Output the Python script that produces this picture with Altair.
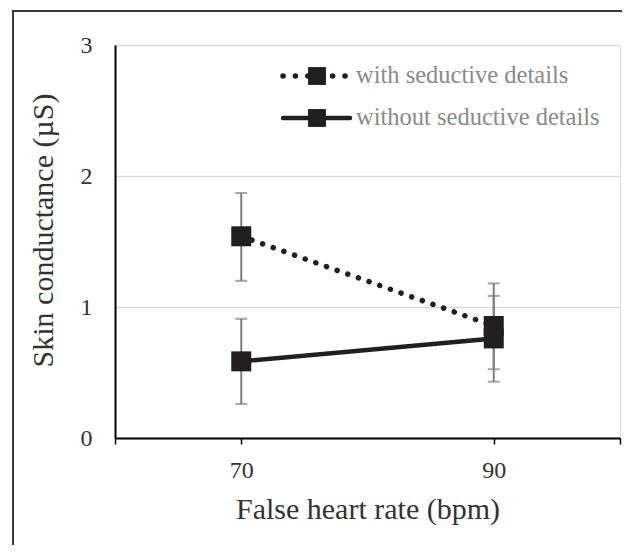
import altair as alt
import pandas as pd

heart_rate = [70, 90]
series = ["with seductive details", "without seductive details"]
with_mean = [1.54, 0.855]
with_hi = [1.87, 1.18]
with_lo = [1.20, 0.525]
without_mean = [0.585, 0.76]
without_hi = [0.91, 1.085]
without_lo = [0.26, 0.43]
y_ticks = [0, 1, 2, 3]
x_ticks = [60, 70, 90, 100]

rows = []
for i, h in enumerate(heart_rate):
    rows.append(dict(hr=h, series=series[0], mean=with_mean[i], lo=with_lo[i], hi=with_hi[i]))
    rows.append(dict(hr=h, series=series[1], mean=without_mean[i], lo=without_lo[i], hi=without_hi[i]))
df = pd.DataFrame(rows)
df_with = df[df.series == series[0]]
df_without = df[df.series == series[1]]
one = pd.DataFrame({"a": [0]})

FONT = "Liberation Serif"
DARK = "#231f20"
TXT = "#333333"

x_enc = alt.X(
    "hr:Q",
    scale=alt.Scale(domain=[60, 100], nice=False, zero=False),
    axis=alt.Axis(
        values=x_ticks,
        labelExpr="(datum.value == 70 || datum.value == 90) ? datum.label : ''",
        title="False heart rate (bpm)",
        grid=False,
        domainColor="black",
        domainWidth=2,
        tickColor="black",
        tickWidth=1.5,
        tickSize=6,
        labelFont=FONT,
        labelFontSize=24,
        labelColor=TXT,
        labelPadding=14,
        titleFont=FONT,
        titleFontSize=30,
        titleFontWeight="normal",
        titleColor=TXT,
        titleY=80,
        titleBaseline="alphabetic",
    ),
)
y_enc = alt.Y(
    "mean:Q",
    scale=alt.Scale(domain=[0, 3], nice=False),
    axis=alt.Axis(
        values=y_ticks,
        format="d",
        grid=True,
        gridColor="#dadada",
        gridWidth=1.5,
        ticks=False,
        domainColor="black",
        domainWidth=2,
        labelFont=FONT,
        labelFontSize=24,
        labelColor=TXT,
        labelPadding=23,
        title="Skin conductance (µS)",
        titleFont=FONT,
        titleFontSize=30,
        titleFontWeight="normal",
        titleColor=TXT,
        titleAngle=270,
        titleX=-63,
        titleY=185,
        titleBaseline="alphabetic",
    ),
)

# outer frame
frame = alt.Chart(one).mark_rect(fill="white", fillOpacity=0, stroke="#3a3a3a", strokeWidth=2).encode(
    x=alt.value(-102), x2=alt.value(530), y=alt.value(-34), y2=alt.value(530)
)

err = alt.Chart(df).mark_rule(color="#7f7f7f", strokeWidth=2).encode(
    x=x_enc, y=alt.Y("lo:Q"), y2="hi:Q"
)
cap_hi = alt.Chart(df).mark_tick(color="#7f7f7f", thickness=2, size=12, orient="horizontal").encode(
    x=x_enc, y=alt.Y("hi:Q")
)
cap_lo = alt.Chart(df).mark_tick(color="#7f7f7f", thickness=2, size=12, orient="horizontal").encode(
    x=x_enc, y=alt.Y("lo:Q")
)
line_with = alt.Chart(df_with).mark_line(
    color=DARK, strokeWidth=5.5, strokeDash=[0.1, 11.2], strokeCap="round"
).encode(x=x_enc, y=y_enc)
line_without = alt.Chart(df_without).mark_line(color=DARK, strokeWidth=4.5).encode(x=x_enc, y=y_enc)
pts = alt.Chart(df).mark_point(shape="square", filled=True, size=400, color=DARK, opacity=1).encode(
    x=x_enc, y=y_enc
)

# legend (drawn inside the plot area)
leg_line1 = alt.Chart(one).mark_rule(
    color=DARK, strokeWidth=5.5, strokeDash=[0.1, 12.3], strokeCap="round"
).encode(x=alt.value(168), x2=alt.value(235), y=alt.value(31))
leg_line2 = alt.Chart(one).mark_rule(color=DARK, strokeWidth=4.5, strokeCap="round").encode(
    x=alt.value(168), x2=alt.value(235), y=alt.value(73)
)
leg_sq1 = alt.Chart(one).mark_point(shape="square", filled=True, size=320, color=DARK, opacity=1).encode(
    x=alt.value(202), y=alt.value(31)
)
leg_sq2 = alt.Chart(one).mark_point(shape="square", filled=True, size=320, color=DARK, opacity=1).encode(
    x=alt.value(202), y=alt.value(73)
)
leg_t1 = alt.Chart(one).mark_text(
    align="left", baseline="middle", font=FONT, fontSize=24.5, color="#8a8a8a"
).encode(x=alt.value(241), y=alt.value(31), text=alt.value(series[0]))
leg_t2 = alt.Chart(one).mark_text(
    align="left", baseline="middle", font=FONT, fontSize=24.5, color="#8a8a8a"
).encode(x=alt.value(241), y=alt.value(73), text=alt.value(series[1]))

chart = alt.layer(
    frame, err, cap_hi, cap_lo, line_with, line_without, pts,
    leg_line1, leg_line2, leg_sq1, leg_sq2, leg_t1, leg_t2,
).properties(
    width=505,
    height=393,
    autosize=alt.AutoSizeParams(type="none"),
    padding={"left": 107, "top": 37, "right": 2, "bottom": 107},
).configure_view(stroke=None).configure(background="white")

chart.save("out.html", embed_options={"renderer": "svg", "actions": False})
